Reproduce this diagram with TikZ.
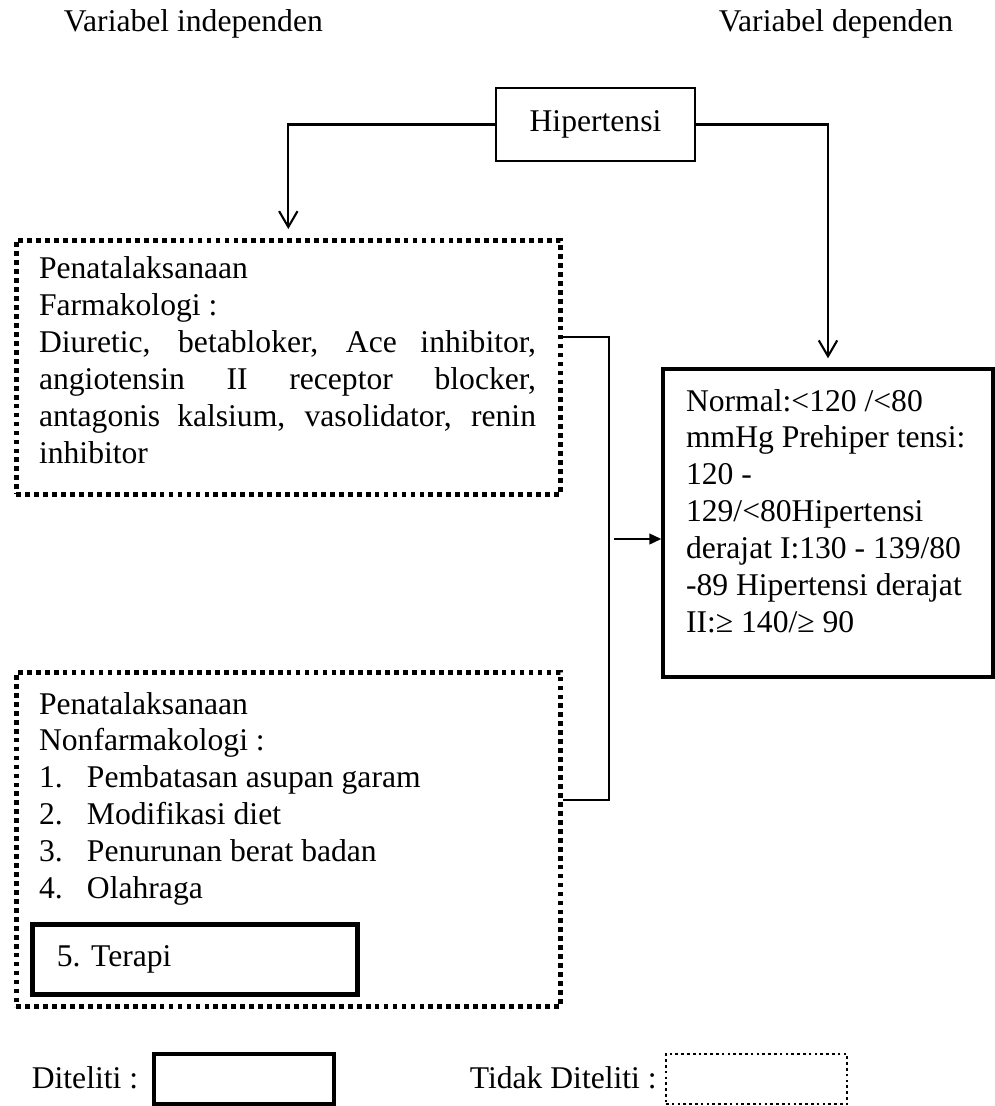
\documentclass[tikz,border=0pt]{standalone}
\usepackage{fontspec}
\setmainfont{Liberation Serif}
\usetikzlibrary{arrows.meta}

\begin{document}
\begin{tikzpicture}[x=0.3795pt, y=-0.3795pt, >={Straight Barb[length=6pt,width=7pt]},
		font=\fontsize{12}{14}\selectfont, line width=0.8pt,
		dotbox/.style={draw, line width=1.8pt, dash pattern=on 1.8pt off 1.6pt},
		thinbox/.style={draw, line width=0.8pt},
		thickbox/.style={draw, line width=1.6pt},
		plaintext/.style={anchor=north west, inner sep=0pt}]
	\useasboundingbox (0,0) rectangle (995,1106);
	% headings
	\node[anchor=west] (indep) at (54,24) {Variabel independen};
	\node[anchor=west] (dep) at (709,24) {Variabel dependen};
	% boxes
	\node[thinbox, minimum width=75.5pt, minimum height=27.7pt] (hiper) at (595.5,124.5) {\raisebox{2pt}{Hipertensi}};
	\node[dotbox, anchor=north west, minimum width=206.4pt, minimum height=96.4pt] (farmako) at (14,238) {};
	\node[plaintext, text width=188.6pt, align=justify] (farmakotext) at (38,256)
		{Penatalaksanaan\\ Farmakologi :\\ Diuretic, betabloker, Ace inhibitor,\linebreak angiotensin II receptor blocker,\linebreak antagonis kalsium, vasolidator, renin\linebreak inhibitor};
	\node[thickbox, line width=1.3pt, minimum width=125.2pt, minimum height=116.9pt] (rbox) at (828,523) {};
	\node[plaintext, align=left] (rboxtext) at (685,388)
		{Normal:<120 /<80\\ mmHg Prehiper tensi:\\ 120 -\\ 129/<80Hipertensi\\ derajat I:130 - 139/80\\ -89 Hipertensi derajat\\ II:≥ 140/≥ 90};
	\node[dotbox, anchor=north west, minimum width=206.4pt, minimum height=126.8pt] (nonfarm) at (14,670) {};
	\node[plaintext, align=left] (nonfarmtext) at (38,691)
		{Penatalaksanaan\\ Nonfarmakologi :\\
		\makebox[18.2pt][l]{1.}Pembatasan asupan garam\\
		\makebox[18.2pt][l]{2.}Modifikasi diet\\
		\makebox[18.2pt][l]{3.}Penurunan berat badan\\
		\makebox[18.2pt][l]{4.}Olahraga};
	\node[thickbox, line width=1.9pt, minimum width=123pt, minimum height=26.2pt, text width=104.8pt, inner xsep=9.1pt, align=left] (terapi) at (195,959.5) {5.\ Terapi};
	% connectors
	\draw[->, shorten >=3.4pt] (hiper.west) -| (farmako.north);
	\draw[->, shorten >=3.4pt] (hiper.east) -| (rbox.north);
	\coordinate (jtop) at (609,337);
	\coordinate (jbot) at (609,800);
	\coordinate (jmid) at (614,539);
	\draw (farmako.east |- jtop) -- (jtop) -- (jbot) -- (nonfarm.east |- jbot);
	\draw[-{Triangle[length=4.5pt,width=4pt]}] (jmid) -- (jmid -| rbox.west);
	% legend
	\node[anchor=west] (ditlabel) at (22,1078) {Diteliti :};
	\node[thickbox, minimum width=68.3pt, minimum height=19pt] (ditbox) at (244,1079) {};
	\node[anchor=west] (tdklabel) at (460,1078) {Tidak Diteliti :};
	\node[draw, line width=1pt, dash pattern=on 1pt off 1.2pt, minimum width=68.7pt, minimum height=19pt] (tdkbox) at (756.5,1079) {};
\end{tikzpicture}
\end{document}
